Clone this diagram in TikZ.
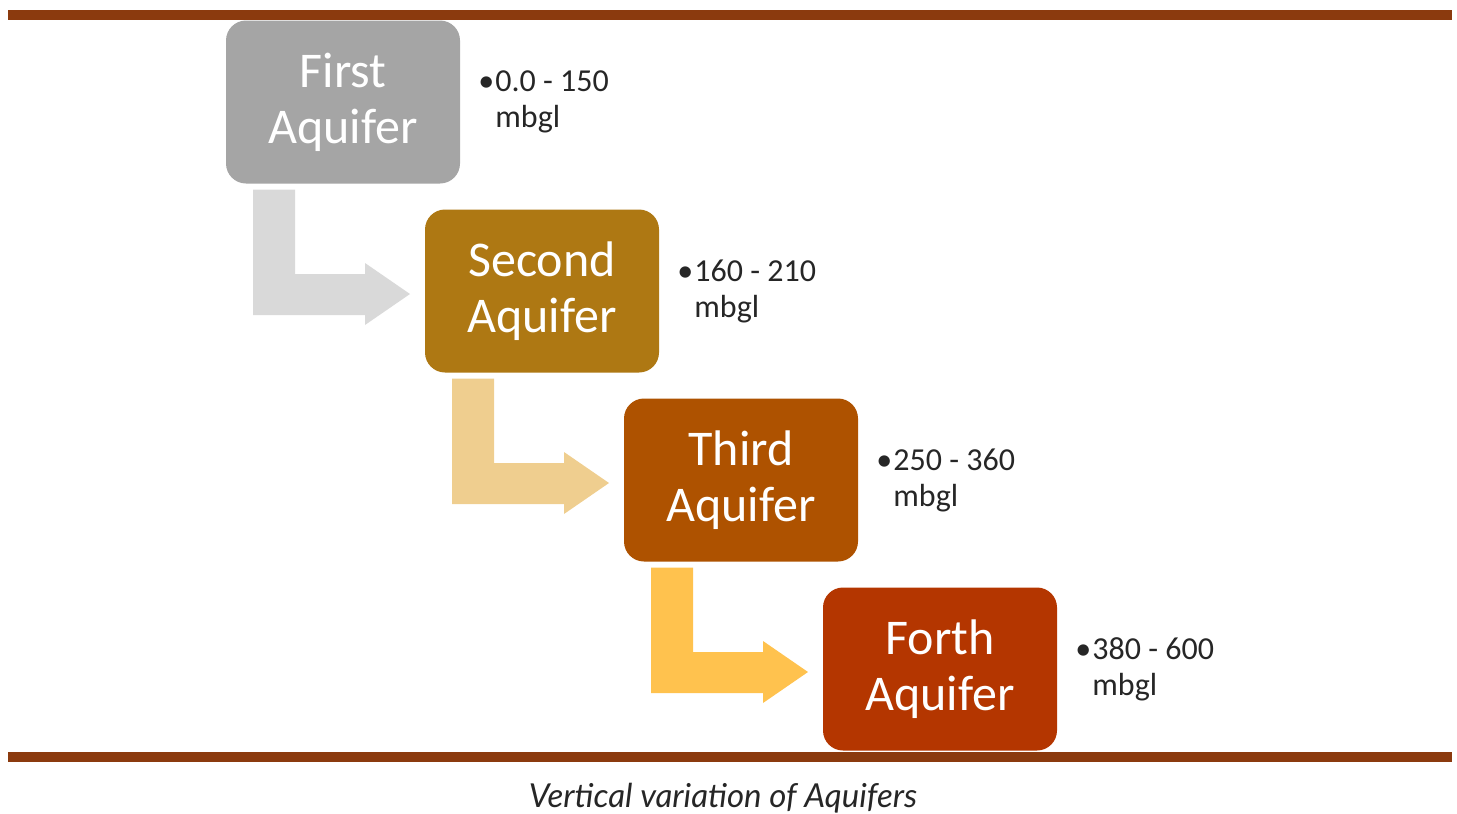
\documentclass[tikz,border=0pt]{standalone}
\usepackage{fontspec}
\setmainfont{Carlito}
\newfontfamily\capfont{Lato}
\usepackage{xcolor}
\usetikzlibrary{positioning, calc}

\definecolor{rulebrown}{HTML}{8B3A0E}
\definecolor{firstgray}{HTML}{A5A5A5}
\definecolor{secondgold}{HTML}{AE7813}
\definecolor{thirdrust}{HTML}{AE5200}
\definecolor{fourthred}{HTML}{B43600}
\definecolor{flowgray}{HTML}{D9D9D9}
\definecolor{flowtan}{HTML}{EFCE8F}
\definecolor{flowamber}{HTML}{FFC24E}
\definecolor{labeltext}{HTML}{262626}

\begin{document}
\begin{tikzpicture}[
        x=0.5pt, y=-0.5pt,
        aqbox/.style={rectangle, rounded corners=10pt, fill=#1, text=white, minimum width=117pt, minimum height=81.5pt, outer sep=0pt, align=center, font=\fontsize{25}{28}\selectfont},
        aqbox/.default=firstgray,
        depth/.style={right=9pt of #1, inner sep=0pt, align=left, text=labeltext, font=\fontsize{16}{18}\selectfont},
        flow/.style={fill=#1},
        caption/.style={font=\capfont\itshape\fontsize{16.5}{18}\selectfont, text=labeltext}
    ]
    \useasboundingbox (0,0) rectangle (1457,814);

    % frame rules
    \fill[rulebrown] (8,10) rectangle (1452,20);
    \fill[rulebrown] (8,752) rectangle (1452,762);

    \node[aqbox=firstgray] (first) at (343,102) {First\\Aquifer};
    \node[aqbox=secondgold, below right=13pt and -17.5pt of first] (second) {Second\\Aquifer};
    \node[aqbox=thirdrust, below right=13pt and -17.5pt of second] (third) {Third\\Aquifer};
    \node[aqbox=fourthred, below right=13pt and -17.5pt of third] (fourth) {Forth\\Aquifer};

    \node[depth=first] (d1) {\makebox[8.5pt][l]{\textbullet}0.0 - 150\\\hspace*{8.5pt}mbgl};
    \node[depth=second] (d2) {\makebox[8.5pt][l]{\textbullet}160 - 210\\\hspace*{8.5pt}mbgl};
    \node[depth=third] (d3) {\makebox[8.5pt][l]{\textbullet}250 - 360\\\hspace*{8.5pt}mbgl};
    \node[depth=fourth] (d4) {\makebox[8.5pt][l]{\textbullet}380 - 600\\\hspace*{8.5pt}mbgl};

    % bent arrows between boxes
    \coordinate (k1) at ($(first.south west)+(27,6)$);
    \coordinate (t1) at ($(second.west)+(-15,3)$);
    \fill[flow=flowgray] (k1) -- ++(42,0) |- ($(t1)+(-45,-20)$) -- ++(0,-11) -- (t1) -- ++(-45,31) -- ++(0,-10) -| (k1) -- cycle;

    \coordinate (k2) at ($(second.south west)+(27,6)$);
    \coordinate (t2) at ($(third.west)+(-15,3)$);
    \fill[flow=flowtan] (k2) -- ++(42,0) |- ($(t2)+(-45,-20)$) -- ++(0,-11) -- (t2) -- ++(-45,31) -- ++(0,-10) -| (k2) -- cycle;

    \coordinate (k3) at ($(third.south west)+(27,6)$);
    \coordinate (t3) at ($(fourth.west)+(-15,3)$);
    \fill[flow=flowamber] (k3) -- ++(42,0) |- ($(t3)+(-45,-20)$) -- ++(0,-11) -- (t3) -- ++(-45,31) -- ++(0,-10) -| (k3) -- cycle;

    \node[caption] (cap) at (723,798) {Vertical variation of Aquifers};
\end{tikzpicture}
\end{document}
